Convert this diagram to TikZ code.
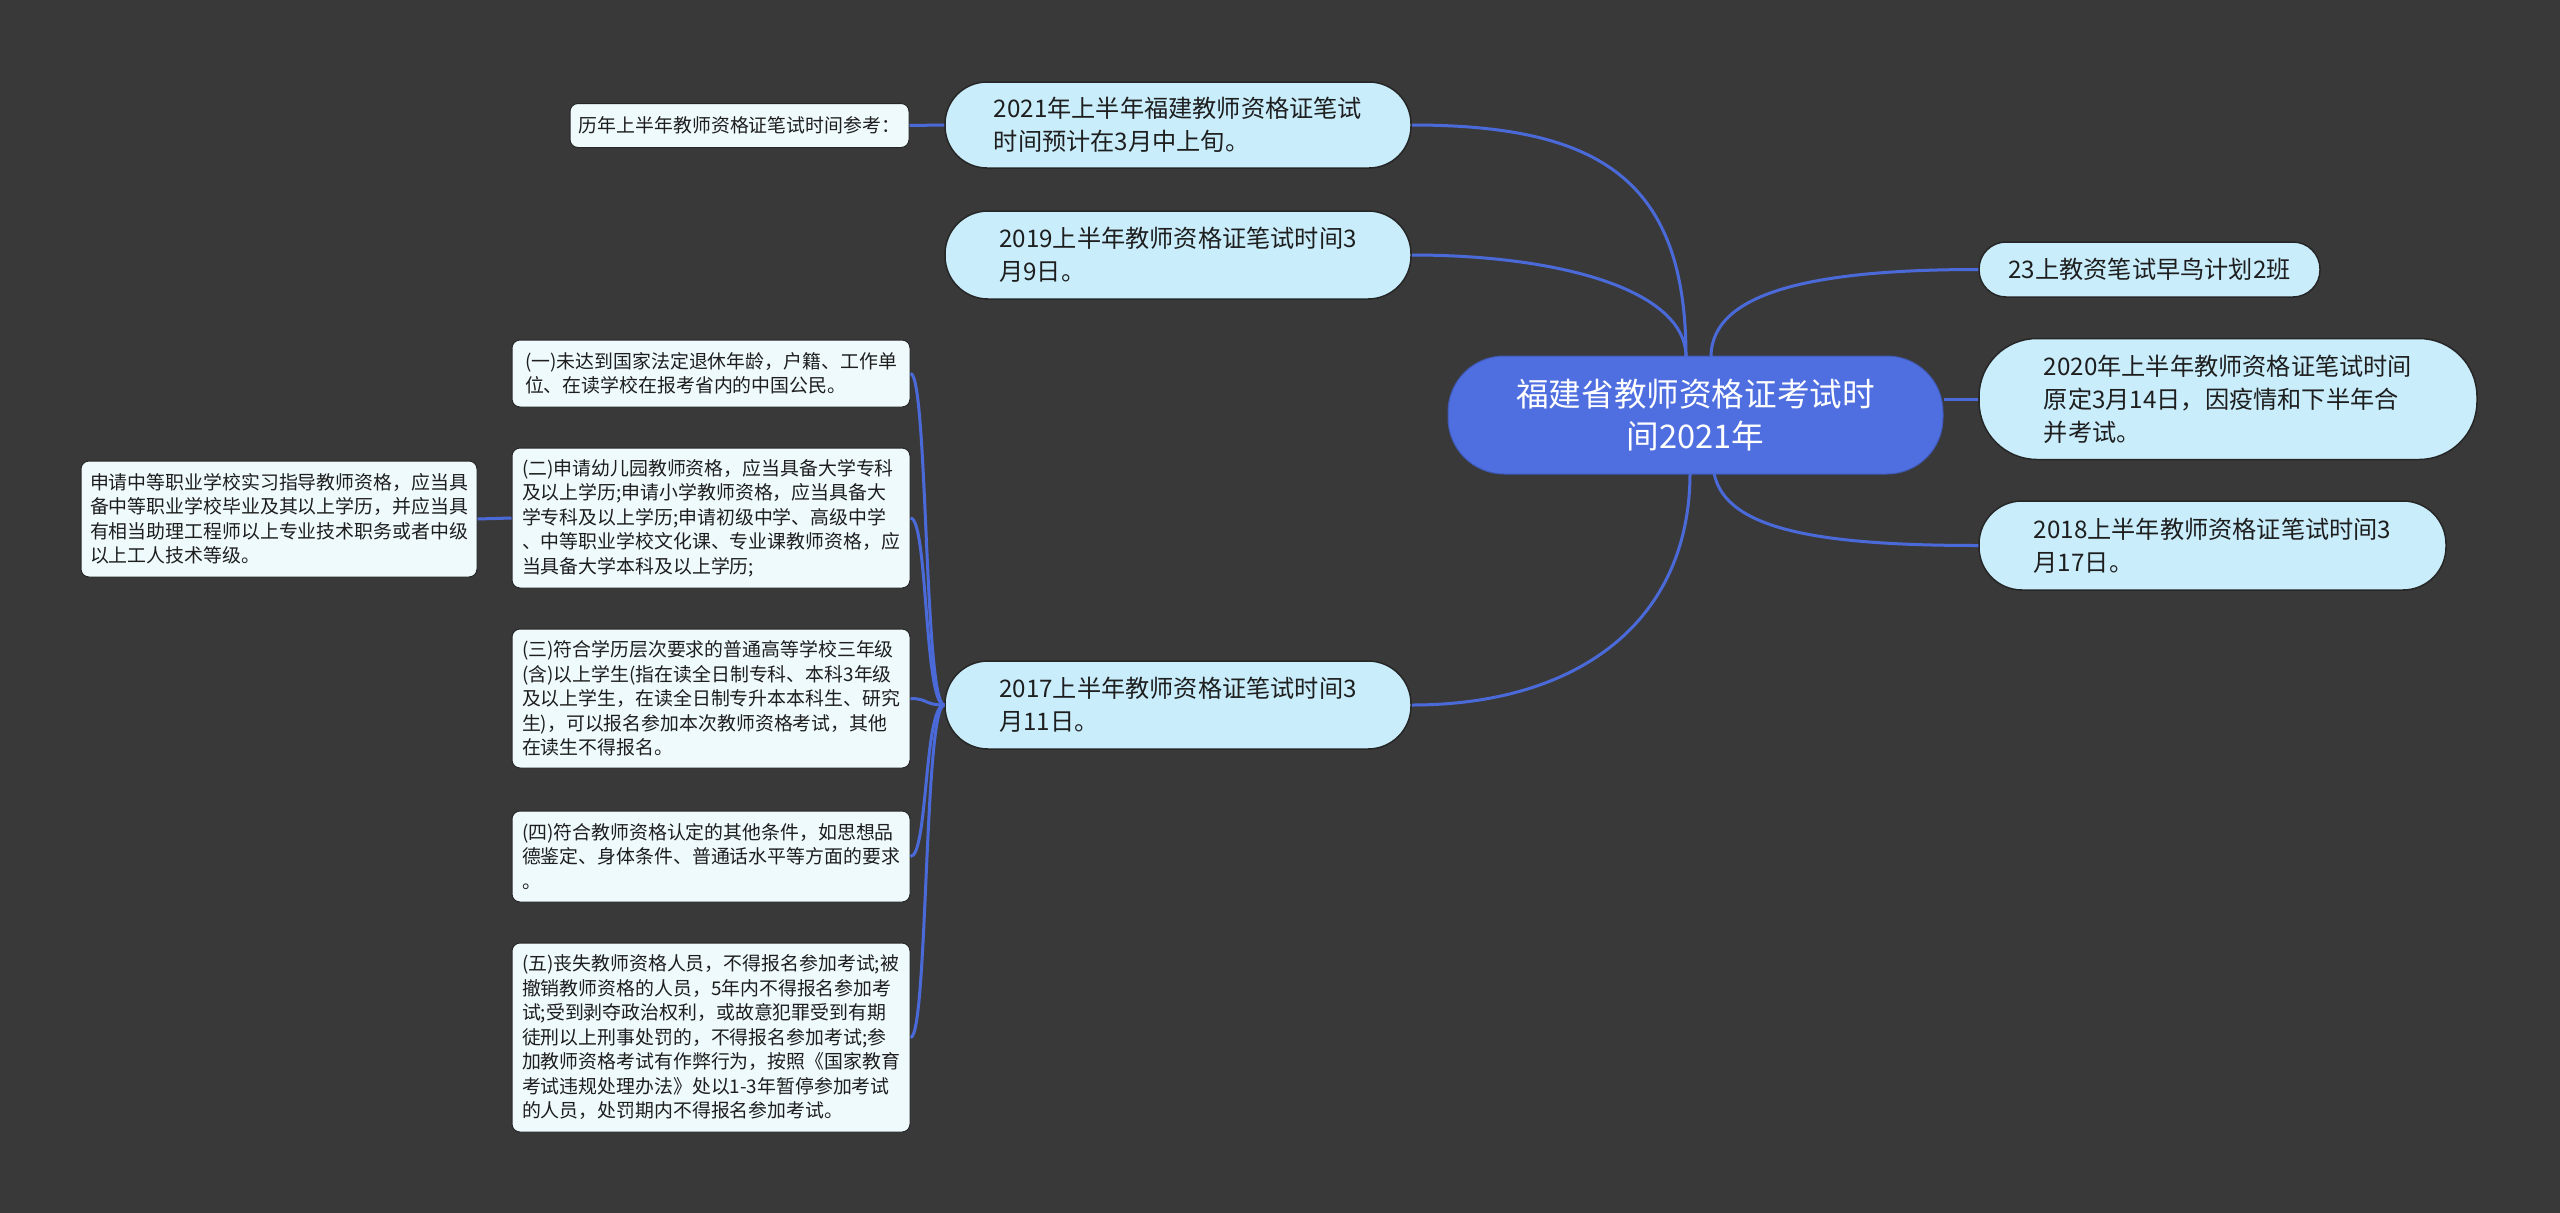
\documentclass[tikz,border=0pt]{standalone}
\usepackage{fontspec}
\newfontfamily\cjk{Noto Sans CJK SC}
\definecolor{bg}{HTML}{3A393A}
\definecolor{cmain}{HTML}{4F6FE0}
\definecolor{ctopic}{HTML}{C9EDFB}
\definecolor{csub}{HTML}{EFFAFD}
\definecolor{cborder}{HTML}{262626}
\definecolor{clink}{HTML}{4B6AD9}
\definecolor{ctext}{HTML}{1E1E1E}
\tikzset{
  mainbox/.style={fill=cmain, draw=cmain!80!black, line width=1pt, rounded corners=56pt, text=white, align=center, inner sep=0pt, font=\cjk\fontsize{32.6}{42}\selectfont},
  topic/.style={fill=ctopic, draw=cborder, line width=1.5pt, text=ctext, align=left, inner sep=0pt, font=\cjk\fontsize{24.2}{33}\selectfont},
  subbox/.style={fill=csub, draw=cborder, line width=1pt, rounded corners=8pt, text=ctext, align=left, inner sep=0pt, font=\cjk\fontsize{18.9}{24.5}\selectfont},
  link/.style={draw=clink, line width=3pt}
}
\begin{document}
\begin{tikzpicture}[x=1pt,y=-1pt]
\useasboundingbox (0,0) rectangle (2560,1213);
\fill[bg] (0,0) rectangle (2560,1213);

% central
\node[mainbox, minimum width=495pt, minimum height=118pt] (c) at (1695.5,415) {福建省教师资格证考试时\\间2021年};

% left topics
\node[topic, rounded corners=42pt, minimum width=466pt, minimum height=86pt] (n1) at (1178,125) {2021年上半年福建教师资格证笔试\\时间预计在3月中上旬。};
\node[topic, rounded corners=43pt, minimum width=466pt, minimum height=88pt] (n2) at (1178,255) {2019上半年教师资格证笔试时间3\\月9日。};
\node[topic, rounded corners=43pt, minimum width=466pt, minimum height=88pt] (n3) at (1178,705) {2017上半年教师资格证笔试时间3\\月11日。};

% right topics
\node[topic, rounded corners=27pt, minimum width=341pt, minimum height=55pt] (r1) at (2149.5,269.5) {23上教资笔试早鸟计划2班};
\node[topic, rounded corners=58pt, minimum width=498pt, minimum height=121pt] (r2) at (2228,399) {2020年上半年教师资格证笔试时间\\原定3月14日，因疫情和下半年合\\并考试。};
\node[topic, rounded corners=43pt, minimum width=467pt, minimum height=89pt] (r3) at (2212.5,545.5) {2018上半年教师资格证笔试时间3\\月17日。};

% sub boxes
\node[subbox, minimum width=339pt, minimum height=44pt] (ref) at (739.5,125.5) {历年上半年教师资格证笔试时间参考：};
\node[subbox, minimum width=398pt, minimum height=67pt] (s1) at (711,373.5) {(一)未达到国家法定退休年龄，户籍、工作单\\位、在读学校在报考省内的中国公民。};
\node[subbox, minimum width=398pt, minimum height=140pt] (s2) at (711,518) {(二)申请幼儿园教师资格，应当具备大学专科\\及以上学历;申请小学教师资格，应当具备大\\学专科及以上学历;申请初级中学、高级中学\\、中等职业学校文化课、专业课教师资格，应\\当具备大学本科及以上学历;};
\node[subbox, minimum width=398pt, minimum height=139pt] (s3) at (711,698.5) {(三)符合学历层次要求的普通高等学校三年级\\(含)以上学生(指在读全日制专科、本科3年级\\及以上学生，在读全日制专升本本科生、研究\\生)，可以报名参加本次教师资格考试，其他\\在读生不得报名。};
\node[subbox, minimum width=398pt, minimum height=91pt] (s4) at (711,856.5) {(四)符合教师资格认定的其他条件，如思想品\\德鉴定、身体条件、普通话水平等方面的要求\\。};
\node[subbox, minimum width=398pt, minimum height=189pt] (s5) at (711,1037.5) {(五)丧失教师资格人员，不得报名参加考试;被\\撤销教师资格的人员，5年内不得报名参加考\\试;受到剥夺政治权利，或故意犯罪受到有期\\徒刑以上刑事处罚的，不得报名参加考试;参\\加教师资格考试有作弊行为，按照《国家教育\\考试违规处理办法》处以1-3年暂停参加考试\\的人员，处罚期内不得报名参加考试。};
\node[subbox, minimum width=396pt, minimum height=116pt] (s2a) at (279,519) {申请中等职业学校实习指导教师资格，应当具\\备中等职业学校毕业及其以上学历，并应当具\\有相当助理工程师以上专业技术职务或者中级\\以上工人技术等级。};

% connectors
\coordinate (ct1) at (1686,357);
\coordinate (ct2) at (1711,357);
\coordinate (cb1) at (1690,473);
\coordinate (cb2) at (1714,473);
\draw[link] (ct1) .. controls (1686,180) and (1600,125) .. (n1.east);
\draw[link] (ct1) .. controls (1686,290) and (1560,255) .. (n2.east);
\draw[link] (cb1) .. controls (1690,620) and (1580,705) .. (n3.east);
\draw[link] (ct2) .. controls (1711,290) and (1820,269.5) .. (r1.west);
\draw[link] (c.east |- r2.west) -- (r2.west);
\draw[link] (cb2) .. controls (1725,530) and (1820,545.5) .. (r3.west);
\draw[link] (n1.west) -- (ref.east);
\foreach \s in {s1,s2,s3,s4,s5}{
  \draw[link] (n3.west) .. controls (924,705) and (928,0 |- \s.east) .. (\s.east);
}
\draw[link] (s2.west) -- (s2a.east);
\end{tikzpicture}
\end{document}
